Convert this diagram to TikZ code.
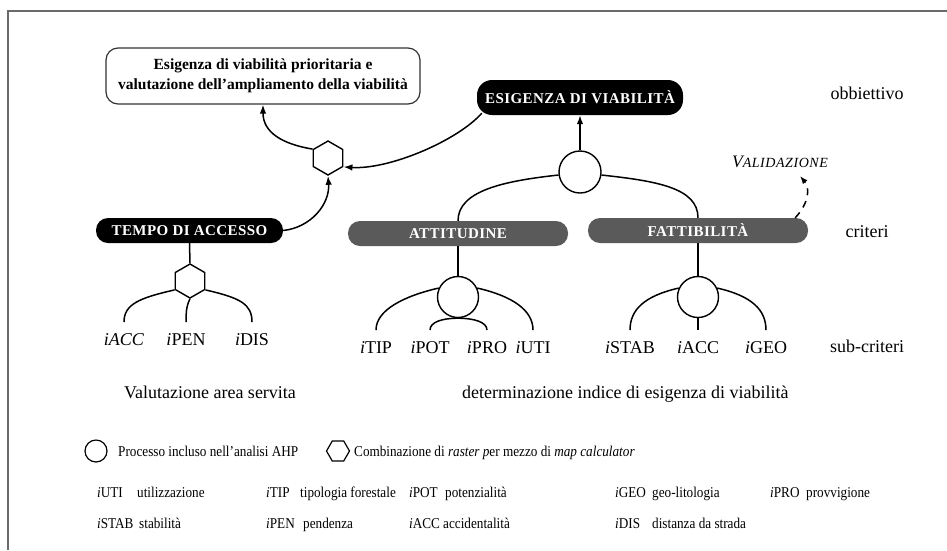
\documentclass[tikz,border=0pt]{standalone}
\usepackage{fontspec}
\setmainfont{Liberation Serif}
\usetikzlibrary{shapes.geometric,arrows.meta,calc}
\definecolor{boxgray}{HTML}{5A5A5A}
\definecolor{framegray}{HTML}{6A6A6A}
\begin{document}
\begin{tikzpicture}[x=1pt,y=-1pt,
  conn/.style={line width=1.5pt, black},
  arr/.style={conn,-{Latex[length=9pt,width=6.5pt]}},
  goalbox/.style={draw=black!80, line width=1.2pt, rounded corners=12pt, minimum width=314pt, minimum height=56pt, align=center, inner sep=0pt, font=\fontsize{15.5}{20}\selectfont\bfseries},
  pill/.style={fill=black, text=white, rounded corners=12pt, minimum height=25pt, inner sep=0pt, font=\fontsize{15}{16}\selectfont\bfseries\addfontfeature{LetterSpace=3}},
  graypill/.style={pill, fill=boxgray},
  ahp/.style={circle, draw, line width=1.4pt, minimum size=41pt, inner sep=0pt},
  hexa/.style={regular polygon, regular polygon sides=6, shape border rotate=30, draw, line width=1.4pt, minimum size=34pt, inner sep=0pt},
  leaf/.style={anchor=base, inner sep=0pt, outer ysep=11pt, font=\fontsize{18}{20}\selectfont},
  lbl/.style={anchor=base, inner sep=0pt, font=\fontsize{18}{20}\selectfont},
  leg/.style={anchor=base west, inner sep=0pt, font=\fontsize{15}{16}\selectfont\addfontfeature{FakeStretch=0.88}},
]
\useasboundingbox (0,0) rectangle (947,550);
\draw[line width=1.3pt, framegray] (8,550) -- (8,11) -- (947,11);

% boxes
\node[goalbox] (goal) at (263,76) {Esigenza di viabilità prioritaria e\\valutazione dell’ampliamento della viabilità};
\node[pill, minimum width=206pt, minimum height=35pt, rounded corners=15pt] (esig) at (580,97.5) {ESIGENZA DI VIABILITÀ};
\node[pill, minimum width=187pt] (tempo) at (189.5,230.5) {TEMPO DI ACCESSO};
\node[graypill, minimum width=220pt] (att) at (458,233.5) {ATTITUDINE};
\node[graypill, minimum width=220pt] (fatt) at (698,230.5) {FATTIBILITÀ};

% process symbols
\node[ahp, minimum size=42pt] (ct) at (580,172) {};
\node[ahp] (ca) at (458,297) {};
\node[ahp] (cf) at (698,297) {};
\node[hexa] (hx) at (328,158) {};
\node[hexa] (hl) at (190,281) {};

% leaves
\node[leaf] (lacc) at (124,345) {\textit{iACC}};
\node[leaf] (lpen) at (186,345) {\textit{i}PEN};
\node[leaf] (ldis) at (252,345) {\textit{i}DIS};
\node[leaf] (ltip) at (376,353) {\textit{i}TIP};
\node[leaf] (lpot) at (430,353) {\textit{i}POT};
\node[leaf] (lpro) at (487,353) {\textit{i}PRO};
\node[leaf] (luti) at (533,353) {\textit{i}UTI};
\node[leaf] (lstab) at (630,353) {\textit{i}STAB};
\node[leaf] (lacc2) at (698,353) {\textit{i}ACC};
\node[leaf] (lgeo) at (766,353) {\textit{i}GEO};

% level labels
\node[lbl] (obj) at (867,99) {obbiettivo};
\node[lbl] (crit) at (867,237) {criteri};
\node[lbl] (subc) at (867,352) {sub-criteri};
\node[lbl] (vas) at (210,398) {Valutazione area servita};
\node[lbl, anchor=base west] (det) at (462,398) {determinazione indice di esigenza di viabilità};

% validazione
\node[inner sep=0pt, anchor=base] (val) at (780,167) {\fontsize{17.5}{18}\selectfont\itshape\addfontfeature{LetterSpace=4}V\fontsize{14}{15}\selectfont ALIDAZIONE};
\coordinate (vtip) at (800,176);

% connectors
\draw[arr] (ct.north) -- (esig.south);
\draw[conn] (ct.188) .. controls +(-55,6) and +(0,-30) .. (att.north);
\draw[conn] (ct.-8) .. controls +(55,6) and +(0,-30) .. (fatt.north);
\draw[conn] (att.south) -- (ca.north);
\draw[conn] (fatt.south) -- (cf.north);
\draw[conn] (ca.155) .. controls +(-35,8) and +(0,-20) .. (ltip.north);
\draw[conn] (ca.south) .. controls +(-16,0) and +(0,-8) .. (lpot.north);
\draw[conn] (ca.south) .. controls +(16,0) and +(0,-8) .. (lpro.north);
\draw[conn] (ca.25) .. controls +(35,8) and +(0,-20) .. (luti.north);
\draw[conn] (cf.155) .. controls +(-35,8) and +(0,-20) .. (lstab.north);
\draw[conn] (cf.south) -- (lacc2.north);
\draw[conn] (cf.25) .. controls +(35,8) and +(0,-20) .. (lgeo.north);

\draw[conn] (tempo.south) -- (hl.90);
\draw[conn] (hl.210) .. controls +(-35,8) and +(0,-18) .. (lacc.north);
\draw[conn] (hl.-90) .. controls +(-4,8) and +(0,-8) .. (lpen.north);
\draw[conn] (hl.-30) .. controls +(35,8) and +(0,-18) .. (ldis.north);

\draw[arr] (hx.150) .. controls +(-30,-5) and +(0,28) .. (goal.south);
\draw[arr] ($(esig.south west)+(5,-2)$) .. controls +(-25,28) and +(45,3) .. (hx.-30);
\draw[arr] (tempo.east) .. controls +(28,-3) and +(2,28) .. (hx.-90);
\draw[conn, dash pattern=on 7pt off 6pt, -{Latex[length=8pt,width=6pt]}] ($(fatt.north east)+(-13,0)$) .. controls +(14,-15) and +(10,12) .. (vtip);

% legend
\node[circle, draw, line width=1.2pt, minimum size=22pt, inner sep=0pt] (legc) at (96,451) {};
\node[leg] (legct) at (118,456) {Processo incluso nell’analisi AHP};
\node[regular polygon, regular polygon sides=6, draw, line width=1.2pt, minimum size=23pt, inner sep=0pt] (legh) at (338,451) {};
\node[leg] (leght) at (354,456) {Combinazione di \textit{raster p}er mezzo di \textit{map calculator}};

\node[leg] (k1) at (97,497) {\textit{i}UTI};
\node[leg] (d1) at (137,497) {utilizzazione};
\node[leg] (k2) at (266,497) {\textit{i}TIP};
\node[leg] (d2) at (300,497) {tipologia forestale};
\node[leg] (k3) at (409,497) {\textit{i}POT};
\node[leg] (d3) at (445,497) {potenzialità};
\node[leg] (k4) at (615,497) {\textit{i}GEO};
\node[leg] (d4) at (652,497) {geo-litologia};
\node[leg] (k5) at (770,497) {\textit{i}PRO};
\node[leg] (d5) at (806,497) {provvigione};

\node[leg] (k6) at (97,528) {\textit{i}STAB};
\node[leg] (d6) at (139,528) {stabilità};
\node[leg] (k7) at (266,528) {\textit{i}PEN};
\node[leg] (d7) at (303,528) {pendenza};
\node[leg] (k8) at (409,528) {\textit{i}ACC};
\node[leg] (d8) at (443,528) {accidentalità};
\node[leg] (k9) at (615,528) {\textit{i}DIS};
\node[leg] (d9) at (652,528) {distanza da strada};
\end{tikzpicture}
\end{document}
